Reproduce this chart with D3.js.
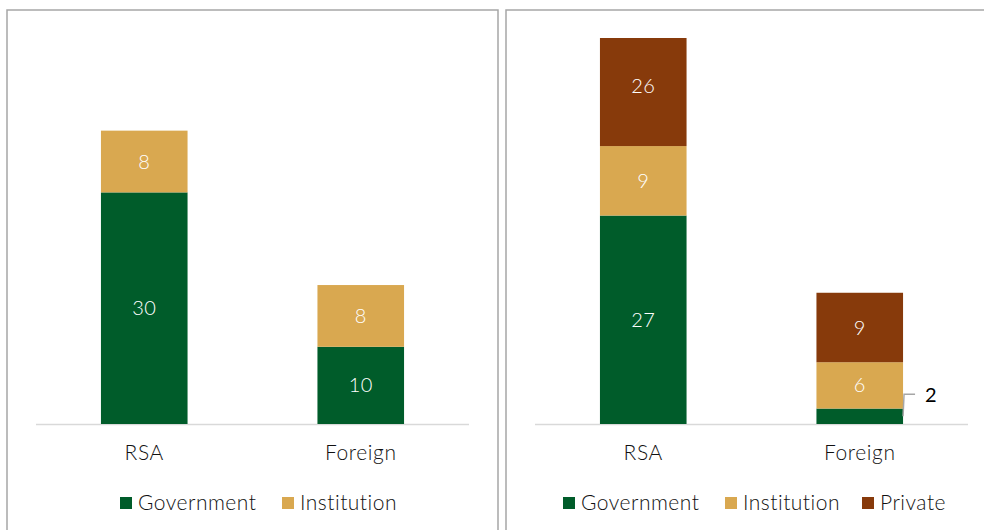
<!DOCTYPE html>
<html>
<head>
<meta charset="utf-8">
<script src="https://cdn.jsdelivr.net/npm/d3@7"></script>
<style>
  body { margin: 0; background: #fff; }
  text { font-family: Lato, "Open Sans", sans-serif; font-weight: 300; }
</style>
</head>
<body>
<div class="chart"></div>
<script>
// data
const categories = ['RSA', 'Foreign'];

const leftGovernment = [30, 10];
const leftInstitution = [8, 8];

const rightGovernment = [27, 2];
const rightInstitution = [9, 6];
const rightPrivate = [26, 9];

const yMax = 50;

const colors = { Government: '#005c2a', Institution: '#d9a850', Private: '#873a0b' };

const svg = d3.select('.chart')
  .append('svg')
  .attr('width', 984)
  .attr('height', 530);

// panel frames
svg.append('path')
  .attr('d', 'M7,530 V10 H498 V530')
  .attr('fill', 'none')
  .attr('stroke', '#a6a6a6')
  .attr('stroke-width', 1.5);
svg.append('path')
  .attr('d', 'M506,530 V10 H984')
  .attr('fill', 'none')
  .attr('stroke', '#a6a6a6')
  .attr('stroke-width', 1.5);

function drawPanel(id, left, right, series, legendX) {
  const top = 38, bottom = 424;

  const x = d3.scaleBand()
    .domain(categories)
    .range([left, right])
    .paddingInner(0.6)
    .paddingOuter(0.3);

  const y = d3.scaleLinear()
    .domain([0, yMax])
    .range([bottom, top]);

  svg.append('clipPath')
    .attr('id', id)
    .append('rect')
    .attr('x', left)
    .attr('y', top)
    .attr('width', right - left)
    .attr('height', bottom - top);

  const stack = d3.stack().keys(series.map(s => s.name))(
    categories.map((c, i) => {
      const row = { cat: c };
      series.forEach(s => { row[s.name] = s.values[i]; });
      return row;
    })
  );

  const g = svg.append('g');

  // baseline
  g.append('line')
    .attr('x1', left).attr('x2', right)
    .attr('y1', bottom + 0.5).attr('y2', bottom + 0.5)
    .attr('stroke', '#d9d9d9')
    .attr('stroke-width', 1.5);

  const layers = g.append('g')
    .attr('clip-path', `url(#${id})`)
    .selectAll('g')
    .data(stack)
    .join('g')
    .attr('fill', d => colors[d.key]);

  layers.selectAll('rect')
    .data(d => d)
    .join('rect')
    .attr('x', d => x(d.data.cat))
    .attr('width', x.bandwidth())
    .attr('y', d => y(d[1]))
    .attr('height', d => y(d[0]) - y(d[1]));

  // data labels
  stack.forEach(layer => {
    layer.forEach(d => {
      const v = d[1] - d[0];
      const y0 = y(d[0]);
      const y1 = y(d[1]) < top ? top - 12 : y(d[1]);
      if (y0 - y1 > 24) {
        g.append('text')
          .attr('x', x(d.data.cat) + x.bandwidth() / 2)
          .attr('y', (y0 + y1) / 2)
          .attr('dy', '0.35em')
          .attr('text-anchor', 'middle')
          .attr('fill', '#fff')
          .style('font-size', '20px')
          .style('letter-spacing', '0.5px')
          .text(v);
      } else {
        // small segment: label outside with a leader line
        const bx = x(d.data.cat) + x.bandwidth();
        const by = (y0 + y1) / 2;
        g.append('path')
          .attr('d', `M${bx},${by} L${bx + 1},${by - 22} H${bx + 12}`)
          .attr('fill', 'none')
          .attr('stroke', '#a6a6a6')
          .attr('stroke-width', 1.5);
        g.append('text')
          .attr('x', bx + 22)
          .attr('y', by - 21)
          .attr('dy', '0.35em')
          .attr('fill', '#000')
          .style('font-size', '20px')
          .style('font-weight', 400)
          .text(v);
      }
    });
  });

  // category axis
  const xAxis = d3.axisBottom(x).tickSize(0).tickPadding(21);
  const ax = g.append('g')
    .attr('transform', `translate(0, ${bottom})`)
    .call(xAxis);
  ax.select('.domain').remove();
  ax.selectAll('text')
    .attr('fill', '#111')
    .style('font-size', '21px')
    .style('letter-spacing', '0.6px')
    .style('font-family', 'Lato, sans-serif')
    .style('font-weight', 300);

  // legend
  const leg = g.selectAll('.leg')
    .data(series)
    .join('g')
    .attr('transform', (d, i) => `translate(${legendX[i]}, 503)`);
  leg.append('rect')
    .attr('x', 0).attr('y', -6)
    .attr('width', 12).attr('height', 12)
    .attr('fill', d => colors[d.name]);
  leg.append('text')
    .attr('x', 18)
    .attr('dy', '0.35em')
    .attr('fill', '#111')
    .style('font-size', '21px')
    .style('letter-spacing', '0.5px')
    .text(d => d.name);
}

drawPanel('clipL', 36, 469, [
  { name: 'Government', values: leftGovernment },
  { name: 'Institution', values: leftInstitution }
], [120, 282]);

drawPanel('clipR', 535, 968, [
  { name: 'Government', values: rightGovernment },
  { name: 'Institution', values: rightInstitution },
  { name: 'Private', values: rightPrivate }
], [563, 725, 862]);
</script>
</body>
</html>
